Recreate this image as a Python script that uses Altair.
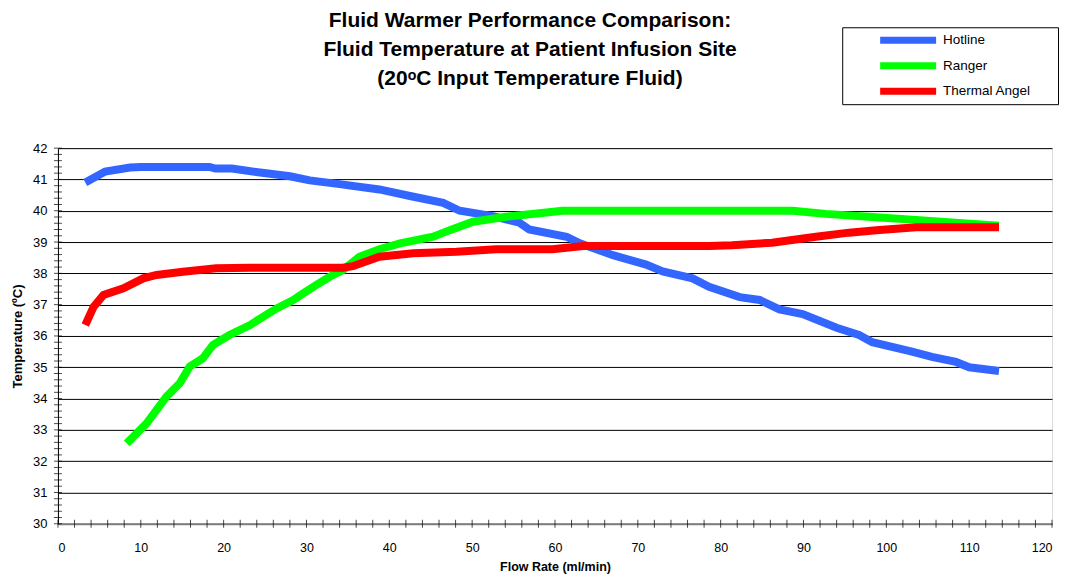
import altair as alt
import pandas as pd

# ---------------- data ----------------
series_names = ["Hotline", "Ranger", "Thermal Angel"]
series_colors = ["#3366FF", "#00FF00", "#FF0000"]

hot_x = [3.3, 5.7, 8.7, 10, 18.3, 19, 21, 24.4, 28, 30.4, 34, 38.8, 42.5, 46.5, 48.5,
         52.5, 55.7, 56.9, 61.4, 63, 67, 71, 73, 76.6, 78.6, 82.3, 84.7, 87.1, 89.9,
         94, 96.7, 98.3, 103.1, 105.5, 108.4, 110, 113.6]
hot_y = [40.9, 41.25, 41.38, 41.4, 41.4, 41.35, 41.35, 41.22, 41.1, 40.97, 40.85, 40.68,
         40.47, 40.25, 40.0, 39.83, 39.62, 39.4, 39.17, 38.96, 38.58, 38.28, 38.06,
         37.84, 37.57, 37.24, 37.15, 36.85, 36.7, 36.26, 36.03, 35.8, 35.5, 35.33,
         35.17, 35.0, 34.88]

ranger_x = [8.3, 10.7, 13.1, 14.7, 15.9, 17.5, 18.7, 20.7, 23.2, 24.8, 26.4, 28.4, 29.6,
            31.2, 32.8, 34.4, 36.4, 38.8, 41.3, 45.3, 47.3, 50.1, 54.1, 58.1, 60.9,
            88.7, 92.7, 98.3, 104, 113.6]
ranger_y = [32.57, 33.21, 34.06, 34.49, 35.02, 35.29, 35.71, 36.03, 36.35, 36.62, 36.88,
            37.15, 37.36, 37.63, 37.89, 38.1, 38.53, 38.77, 38.96, 39.17, 39.38, 39.65,
            39.81, 39.92, 40.0, 40.0, 39.9, 39.8, 39.7, 39.52]

angel_x = [3.3, 4.3, 5.5, 7.9, 10.3, 11.9, 15.1, 19.1, 23.2, 34.4, 35.6, 38.8, 42.9,
           48.1, 52.9, 59.7, 63.4, 78.6, 81.4, 86.2, 91.5, 95.5, 98.8, 103.6, 113.6]
angel_y = [36.35, 36.93, 37.31, 37.52, 37.84, 37.95, 38.05, 38.16, 38.18, 38.18, 38.23,
           38.53, 38.64, 38.69, 38.77, 38.77, 38.87, 38.87, 38.9, 38.98, 39.17, 39.3,
           39.38, 39.47, 39.47]

y_label_values = list(range(30, 43))
x_label_values = list(range(0, 121, 10))
y_minor_ticks = [round(30 + 0.2 * i, 1) for i in range(61)]
x_minor_ticks = list(range(0, 121, 2))

title_lines = ["Fluid Warmer Performance Comparison:",
               "Fluid Temperature at Patient Infusion Site",
               "(20ᵒC Input Temperature Fluid)"]

# ---------------- build tables ----------------
rows = []
for name, xs, ys in [("Hotline", hot_x, hot_y), ("Ranger", ranger_x, ranger_y),
                     ("Thermal Angel", angel_x, angel_y)]:
    for i, (x, y) in enumerate(zip(xs, ys)):
        rows.append({"series": name, "flow": x, "temp": y, "order": i})
df = pd.DataFrame(rows)

ytick_df = pd.DataFrame({"flow": [0] * len(y_minor_ticks), "temp": y_minor_ticks})
xtick_df = pd.DataFrame({"flow": x_minor_ticks, "temp": [30] * len(x_minor_ticks)})

FONT = "Liberation Sans"
xscale = alt.Scale(domain=[0, 120], nice=False, zero=False)
yscale = alt.Scale(domain=[30, 42], nice=False, zero=False)

x_axis = alt.Axis(values=x_label_values, grid=False, ticks=False, domainColor="#808080",
                  domainWidth=2, labelFont=FONT, labelFontSize=12.5, labelColor="#000",
                  labelPadding=18, title="Flow Rate (ml/min)", titleFont=FONT,
                  titleFontSize=12.5, titleFontWeight="bold", titleColor="#000",
                  titlePadding=6)
y_axis = alt.Axis(values=y_label_values, grid=True, gridColor="#000", gridWidth=1,
                  ticks=False, domainColor="#000", domainWidth=1, labelFont=FONT,
                  labelFontSize=13, labelColor="#000", labelPadding=11,
                  title="Temperature (ºC)", titleFont=FONT, titleFontSize=13,
                  titleFontWeight="bold", titleColor="#000", titlePadding=8)

legend = alt.Legend(title=".", titleOrient="right", titleColor="white", titleFontSize=2,
                    titlePadding=21,
                    orient="none", legendX=785, legendY=-121,
                    symbolType="M-3.5,0H3.5", symbolSize=256, symbolStrokeWidth=7,
                    labelFont=FONT, labelFontSize=13.5, labelColor="#000",
                    strokeColor="black", fillColor="white", clipHeight=16,
                    padding=5, rowPadding=9.5, symbolOffset=49.5, labelOffset=23.5)

lines = alt.Chart(df).mark_line(strokeWidth=8).encode(
    x=alt.X("flow:Q", scale=xscale, axis=x_axis),
    y=alt.Y("temp:Q", scale=yscale, axis=y_axis),
    color=alt.Color("series:N",
                    scale=alt.Scale(domain=series_names, range=series_colors),
                    legend=legend),
    order="order:Q",
)

ytick = alt.Chart(ytick_df).mark_tick(orient="horizontal", size=8, thickness=1,
                                      color="black").encode(
    x=alt.X("flow:Q", scale=xscale, axis=x_axis),
    y=alt.Y("temp:Q", scale=yscale, axis=y_axis),
)
xtick = alt.Chart(xtick_df).mark_tick(orient="vertical", size=8, thickness=1,
                                      color="black").encode(
    x=alt.X("flow:Q", scale=xscale, axis=x_axis),
    y=alt.Y("temp:Q", scale=yscale, axis=y_axis),
)

chart = alt.layer(xtick, ytick, lines).properties(
    width=995, height=376,
    autosize=alt.AutoSizeParams(type="none"),
    padding={"left": 50, "top": 140, "right": 8, "bottom": 50},
    title=alt.TitleParams(text=title_lines, font=FONT, fontSize=21, fontWeight="bold",
                          color="#000", lineHeight=29, anchor="middle", frame="group",
                          baseline="bottom", offset=-83, dx=-25),
).configure_view(stroke=None).configure(background="white")

chart.save("out.html", embed_options={"renderer": "svg", "actions": False})
